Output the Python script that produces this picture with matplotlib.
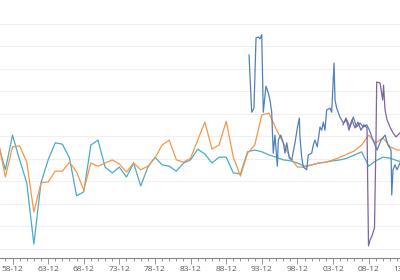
import matplotlib
matplotlib.use("Agg")
import matplotlib.pyplot as plt
import matplotlib.transforms as mtransforms
import numpy as np

# ---- data -------------------------------------------------------------
years_annual = list(range(1956, 2014))
teal_vals = [23.3, 17.6, 25.3, 19.8, 14.7, 1.1, 14.7, 19.8, 23.6, 23.3,
             20.2, 11.8, 12.7, 23.1, 24.2, 18.2, 16.9, 18.2, 16.0, 19.1,
             14.0, 18.2, 20.4, 18.7, 18.4, 17.3, 19.1, 19.8, 22.2, 21.1,
             19.1, 20.4, 20.4, 16.9, 16.7, 21.6, 22.0, 21.6, 20.9, 20.4,
             19.8, 19.6, 19.1, 18.4, 18.7, 19.1, 19.3, 19.6, 19.8, 20.2,
             20.9, 21.6, 18.4, 19.6, 20.4, 20.2, 19.6, 19.3]
orange_vals = [24.0, 16.0, 22.7, 22.9, 19.3, 8.2, 14.7, 14.9, 17.3, 17.3,
               19.3, 17.1, 13.1, 19.1, 18.4, 19.1, 19.8, 18.9, 17.1, 19.1,
               17.6, 18.4, 20.2, 23.1, 24.2, 19.8, 19.3, 20.2, 24.2, 28.2,
               22.2, 23.1, 28.4, 20.4, 16.2, 21.3, 23.1, 29.8, 30.2, 26.7,
               23.6, 20.2, 18.2, 18.2, 18.7, 19.1, 19.3, 19.8, 20.4, 21.1,
               21.8, 23.1, 25.3, 23.6, 24.7, 22.7, 22.0, 22.0]

blue_t = [1992.12, 1992.49, 1992.81, 1993.10, 1993.42, 1993.66, 1993.90,
          1994.12, 1994.50, 1994.82, 1995.06, 1995.30, 1995.52, 1995.76,
          1996.09, 1996.23, 1996.56, 1996.93, 1997.17, 1997.41, 1997.77,
          1998.11, 1998.57, 1998.90, 1999.18, 1999.27, 1999.51, 1999.74,
          2000.21, 2000.44, 2000.92, 2001.14, 2001.38, 2001.70, 2002.08,
          2002.32, 2002.55, 2002.78, 2003.02, 2003.48, 2003.72, 2004.05,
          2004.19, 2004.42, 2004.89, 2005.35, 2005.83, 2006.29, 2006.75,
          2007.23, 2007.70, 2008.16, 2008.64, 2009.02, 2009.52, 2010.09,
          2010.65, 2011.21, 2011.63, 2012.05, 2012.15, 2012.33, 2012.61,
          2012.89, 2013.31]
blue_vals = [43.1, 30.4, 31.3, 46.9, 47.1, 46.7, 47.6,
             30.4, 36.2, 34.7, 33.1, 30.4, 21.3, 25.3,
             18.4, 24.2, 25.3, 23.6, 21.3, 23.6, 20.2,
             19.8, 23.6, 26.9, 29.1, 24.9, 20.4, 18.2,
             17.6, 20.9, 21.3, 23.1, 24.2, 22.7, 27.1,
             26.4, 28.2, 26.4, 30.9, 31.3, 30.4, 41.3,
             33.1, 31.3, 29.3, 28.0, 28.7, 27.1, 29.3,
             27.1, 28.0, 27.1, 27.6, 26.4, 24.2, 22.0,
             24.2, 25.3, 23.1, 22.0, 12.0, 17.6, 18.7,
             17.6, 19.1]

purple_t = [2005.31, 2005.73, 2006.15, 2006.57, 2006.99, 2007.41, 2007.83,
            2008.26, 2008.68, 2008.89, 2009.10, 2009.38, 2009.73, 2009.94,
            2010.04, 2010.51, 2010.88, 2011.00, 2011.21, 2011.49, 2011.91,
            2012.33, 2012.75, 2013.31]
purple_vals = [27.6, 29.1, 26.4, 28.7, 26.9, 28.2, 26.4,
               27.6, 26.9, 0.7, 2.0, 2.9, 4.7, 24.2,
               37.1, 36.9, 33.1, 36.4, 30.9, 28.7, 27.1,
               25.8, 24.9, 25.8]

label_years = list(range(1958, 2014, 5))
tick_labels = [f"{y % 100:02d}-12" for y in label_years]
edge_label_year = 2013

# ---- plot ---------------------------------------------------------------
plt.rcParams['font.family'] = ['Open Sans', 'DejaVu Sans']
fig = plt.figure(figsize=(4.0, 2.8), dpi=100)
ax = fig.add_axes([0, 22 / 280, 1, 258 / 280])

xa = np.array(years_annual) + 11 / 12
ax.plot(xa, teal_vals, color='#4BACC6', lw=0.9)
ax.plot(xa, orange_vals, color='#F79646', lw=0.9)
ax.plot(blue_t, blue_vals, color='#4F81BD', lw=0.9)
ax.plot(purple_t, purple_vals, color='#8064A2', lw=0.9)

ax.set_yticks(np.arange(0, 55, 5))
ax.yaxis.grid(True, color='#EFEFEF', lw=0.8)
ax.set_axisbelow(True)
ax.tick_params(axis='y', left=False, labelleft=False)

ax.set_xticks([y + 11 / 12 for y in label_years])
ax.set_xticklabels(tick_labels)
ax.set_xticks([y + 11 / 12 for y in range(1956, 2014)], minor=True)
ax.tick_params(axis='x', which='major', direction='out', length=4, width=0.6,
               color='#868686', labelsize=6.0, labelcolor='#595959', pad=2)
ax.tick_params(axis='x', which='minor', direction='out', length=2.5, width=0.6,
               color='#868686')

ax.set_xlim(1957.162, 2013.311)
ax.set_ylim(-2.0, 55.33)

# partially visible label at the right edge (cut by the figure border)
trans = mtransforms.blended_transform_factory(
    ax.transData,
    ax.transAxes + mtransforms.ScaledTranslation(0, -8 / 72, fig.dpi_scale_trans))
ax.text(edge_label_year + 11 / 12, 0, f"{edge_label_year % 100:02d}-12",
        transform=trans, ha='center', va='center', fontsize=6.0,
        color='#595959', clip_on=False)

for s in ['top', 'right', 'left']:
    ax.spines[s].set_visible(False)
ax.spines['bottom'].set_color('#868686')
ax.spines['bottom'].set_linewidth(0.8)

fig.savefig('out.png', dpi=100)
